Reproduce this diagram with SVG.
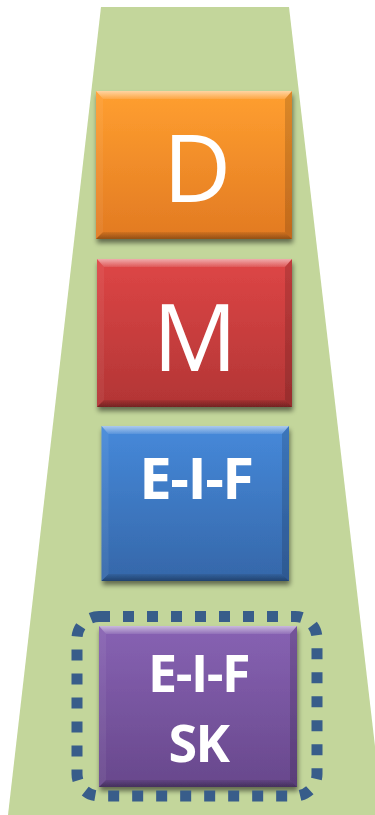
<svg xmlns="http://www.w3.org/2000/svg" width="375" height="815" viewBox="0 0 375 815">
  <defs>
    <linearGradient id="gOrange" x1="0" y1="0" x2="0" y2="1">
      <stop offset="0" stop-color="#FF9F30"/>
      <stop offset="1" stop-color="#E27A22"/>
    </linearGradient>
    <linearGradient id="gRed" x1="0" y1="0" x2="0" y2="1">
      <stop offset="0" stop-color="#DE4646"/>
      <stop offset="1" stop-color="#B23535"/>
    </linearGradient>
    <linearGradient id="gBlue" x1="0" y1="0" x2="0" y2="1">
      <stop offset="0" stop-color="#4689DA"/>
      <stop offset="1" stop-color="#3567A9"/>
    </linearGradient>
    <linearGradient id="gPurple" x1="0" y1="0" x2="0" y2="1">
      <stop offset="0" stop-color="#8762B3"/>
      <stop offset="1" stop-color="#68488C"/>
    </linearGradient>
    <linearGradient id="gTop" x1="0" y1="0" x2="0" y2="1">
      <stop offset="0" stop-color="#FFFFFF" stop-opacity="0.55"/>
      <stop offset="1" stop-color="#FFFFFF" stop-opacity="0.1"/>
    </linearGradient>
    <linearGradient id="gBot" x1="0" y1="0" x2="0" y2="1">
      <stop offset="0" stop-color="#000000" stop-opacity="0.08"/>
      <stop offset="1" stop-color="#000000" stop-opacity="0.35"/>
    </linearGradient>
    <filter id="shadow" x="-10%" y="-10%" width="120%" height="130%">
      <feGaussianBlur in="SourceAlpha" stdDeviation="2.5"/>
      <feOffset dx="1" dy="4" result="b"/>
      <feComponentTransfer><feFuncA type="linear" slope="0.5"/></feComponentTransfer>
      <feMerge><feMergeNode/><feMergeNode in="SourceGraphic"/></feMerge>
    </filter>
  </defs>
  <style>
    .top { fill: url(#gTop); }
    .bot { fill: url(#gBot); }
    .lft { fill: #FFFFFF; fill-opacity: 0.06; }
    .rgt { fill: #000000; fill-opacity: 0.14; }
    .big { font-family: "Open Sans", "Liberation Sans", sans-serif; font-size: 94px; fill: #FFFFFF; text-anchor: middle; }
    .bold { font-family: "Open Sans", "Liberation Sans", sans-serif; font-weight: bold; fill: #FFFFFF; text-anchor: middle; letter-spacing: -1.5px; }
  </style>

  <polygon id="background" points="101,7 289,7 383,815 8,815" fill="#C3D69B"/>

  <g id="node-D" filter="url(#shadow)">
    <rect x="96" y="91" width="196" height="148" fill="url(#gOrange)"/>
    <polygon class="top" points="96,91 292,91 285,99 103,99"/>
    <polygon class="lft" points="96,91 103,99 103,232 96,239"/>
    <polygon class="rgt" points="292,91 292,239 285,232 285,99"/>
    <polygon class="bot" points="103,232 285,232 292,239 96,239"/>
    <text class="big" x="197" y="202">D</text>
  </g>

  <g id="node-M" filter="url(#shadow)">
    <rect x="97" y="259" width="195" height="148" fill="url(#gRed)"/>
    <polygon class="top" points="97,259 292,259 285,267 104,267"/>
    <polygon class="lft" points="97,259 104,267 104,400 97,407"/>
    <polygon class="rgt" points="292,259 292,407 285,400 285,267"/>
    <polygon class="bot" points="104,400 285,400 292,407 97,407"/>
    <text class="big" x="195" y="371">M</text>
  </g>

  <g id="node-EIF" filter="url(#shadow)">
    <rect x="101.5" y="426" width="187.5" height="155" fill="url(#gBlue)"/>
    <polygon class="top" points="101.5,426 289,426 282,434 108.5,434"/>
    <polygon class="lft" points="101.5,426 108.5,434 108.5,574 101.5,581"/>
    <polygon class="rgt" points="289,426 289,581 282,574 282,434"/>
    <polygon class="bot" points="108.5,574 282,574 289,581 101.5,581"/>
    <text class="bold" x="196" y="499" font-size="58">E-I-F</text>
  </g>

  <g id="node-EIF-SK" filter="url(#shadow)">
    <rect x="99" y="626" width="198" height="161" fill="url(#gPurple)"/>
    <polygon class="top" points="99,626 297,626 290,634 106,634"/>
    <polygon class="lft" points="99,626 106,634 106,780 99,787"/>
    <polygon class="rgt" points="297,626 297,787 290,780 290,634"/>
    <polygon class="bot" points="106,780 290,780 297,787 99,787"/>
    <text class="bold" x="198.5" y="692" font-size="52">E-I-F</text>
    <text class="bold" x="198.5" y="762" font-size="52">SK</text>
  </g>

  <g id="connectors">
    <rect id="highlight" x="77" y="616.5" width="240" height="179.5" rx="22" ry="22" fill="none" stroke="#385D8A" stroke-width="11" stroke-dasharray="11 13"/>
  </g>
</svg>
